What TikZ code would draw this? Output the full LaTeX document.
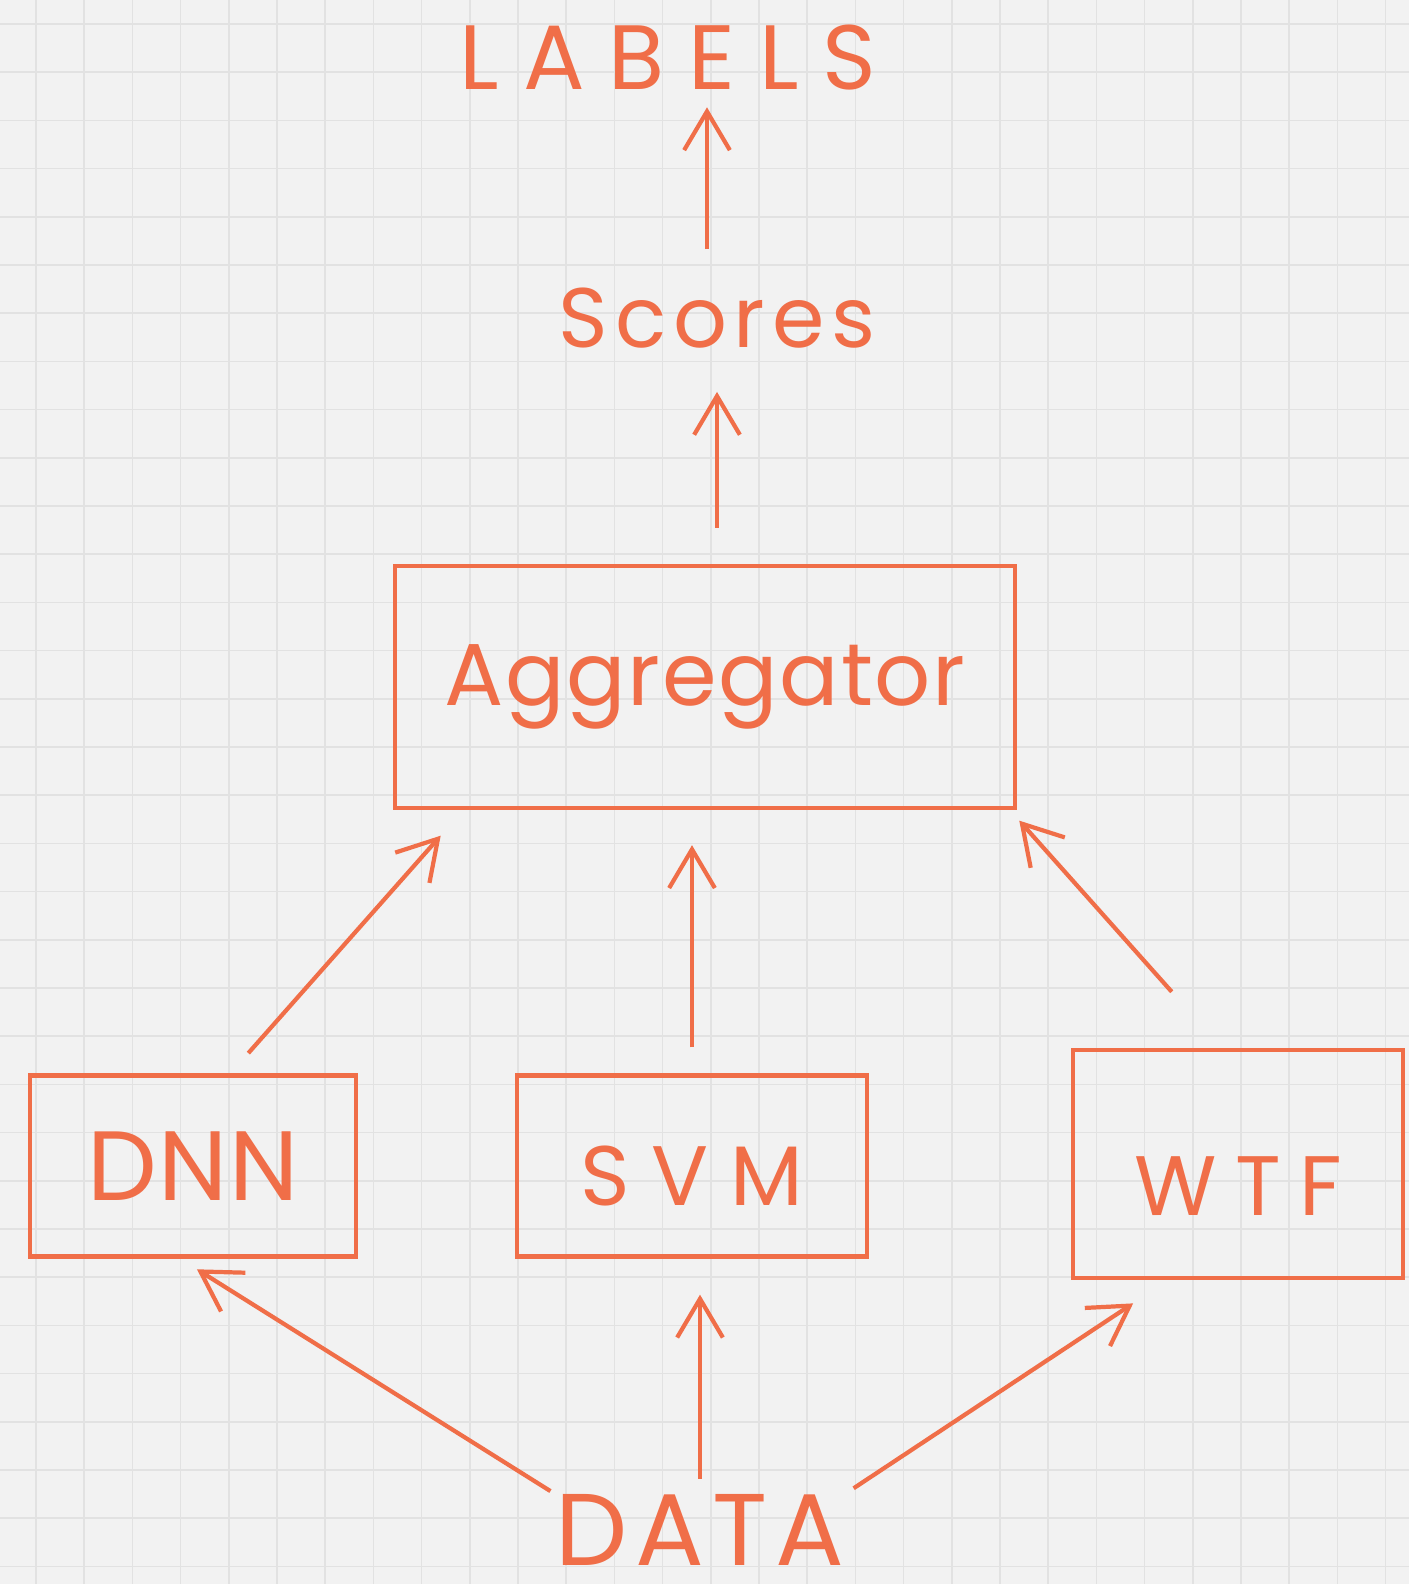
\documentclass[tikz,border=0pt]{standalone}
\usepackage{fontspec}
\usepackage{tikz}
\usetikzlibrary{arrows.meta}
\newfontfamily\handfam{Poppins}
\definecolor{pen}{RGB}{240,110,72}
\definecolor{paper}{RGB}{242,242,242}
\definecolor{rule}{RGB}{226,226,226}
\tikzset{>={Straight Barb[length=11pt,width=13pt]}}
\tikzset{
  hand/.style={text=pen,inner sep=0pt},
  box/.style={draw=pen,text=pen,line width=1.2pt,inner sep=0pt},
  arr/.style={->,draw=pen,line width=1.2pt}
}
\newcommand{\handfont}[2]{\handfam\fontsize{#1}{#1}\selectfont\addfontfeatures{LetterSpace=#2}}

\begin{document}
\begin{tikzpicture}[x=0.01cm,y=-0.01cm]
      \useasboundingbox (0,0) rectangle (1409,1584);
      % squared paper
      \fill[paper] (0,0) rectangle (1409,1584);
      \foreach \i in {0,...,28} \draw[rule,line width=0.5pt] (36+48.2*\i,0) -- ++(0,1584);
      \foreach \j in {0,...,32} \draw[rule,line width=0.5pt] (0,24+48.2*\j) -- ++(1409,0);

      % top: outputs
      \node[hand,font=\handfont{26pt}{26}] at (668,58) (labels) {LABELS};
      \node[hand,font=\handfont{24pt}{8}] at (717,318) (scores) {Scores};

      % the boxes
      \node[box,minimum width=6.19cm,minimum height=2.42cm,font=\handfont{25pt}{2}] at (705,687) (agg) {Aggregator};
      \node[box,minimum width=3.26cm,minimum height=1.81cm,font=\handfont{28pt}{2}] at (193,1166) (dnn) {DNN};
      \node[box,minimum width=3.5cm,minimum height=1.81cm,text height=0.79cm,text depth=0pt,
            font=\handfont{24pt}{26}] at (692,1166) (svm) {SVM};
      \node[box,minimum width=3.3cm,minimum height=2.28cm,text height=1.03cm,text depth=0pt,
            font=\handfont{24pt}{22}] at (1238,1164) (wtf) {WTF};

      % input
      \node[hand,font=\handfont{29pt}{8}] at (700,1530) (data) {DATA};

      \draw[arr,shorten <=0.05cm,shorten >=0.2cm] (data.north west) -- (dnn.262);
      \draw[arr,shorten <=0.15cm,shorten >=0.36cm] (data.north) -- (data.north |- svm.south);
      \draw[arr,shorten <=0.1cm,shorten >=0.42cm] (data.north east) -- (wtf.239);

      \draw[arr,shorten <=0.27cm,shorten >=0.34cm] (dnn.68) -- (agg.207);
      \draw[arr,shorten <=0.26cm,shorten >=0.35cm] (svm.north) -- (svm.north |- agg.south);
      \draw[arr,shorten <=0.75cm,shorten >=0.14cm] (wtf.98) -- (agg.338);

      \draw[arr,shorten <=0.36cm,shorten >=0.43cm] (scores.south |- agg.north) -- (scores.south);
      \draw[arr,shorten <=0.38cm,shorten >=0.16cm] ([xshift=-0.1cm]scores.north) -- ([xshift=-0.1cm]scores.north |- labels.south);
\end{tikzpicture}
\end{document}
